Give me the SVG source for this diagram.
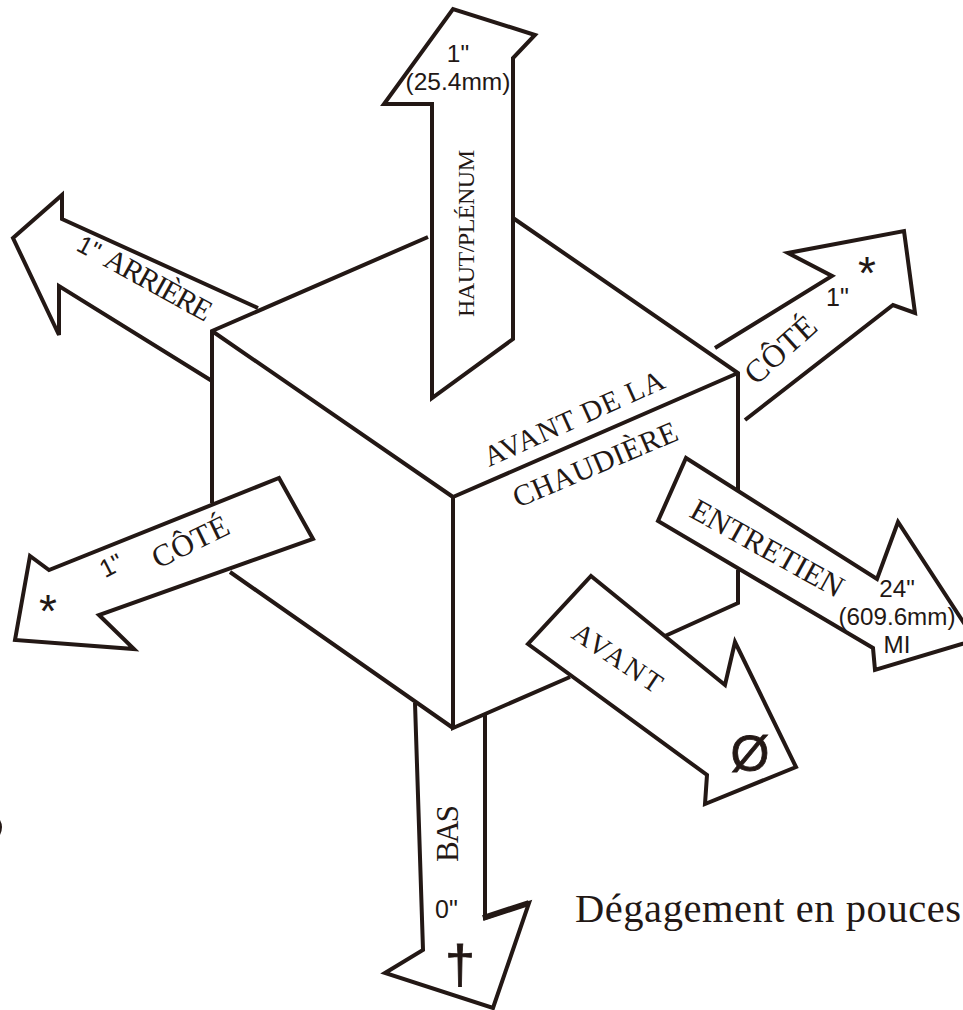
<svg xmlns="http://www.w3.org/2000/svg" width="963" height="1010" viewBox="0 0 963 1010">
<style>
.l{fill:none;stroke:#231815;stroke-width:4;stroke-linejoin:miter;stroke-linecap:butt}
.a{fill:#fff;stroke:#231815;stroke-width:4;stroke-linejoin:miter}
.s{font-family:"Liberation Serif",serif;fill:#231815}
.n{font-family:"Liberation Sans",Arial,sans-serif;fill:#231815}
.m{text-anchor:middle}
.b{stroke:#231815;stroke-width:.8}
</style>
<rect width="963" height="1010" fill="#fff"/>
<g id="connectors">
<path class="l" d="M212 503V331L428 237M513 218L738 373V490M738 570V603L665 636M570 677L453 728V497M453 497L738 373M212 331L453 497M230 572L453 728"/>
</g>
<g id="arrow-top">
<path class="a" d="M432 398V104H384L453 9L535 35L513 58V339Z"/>
<text class="n m" x="458" y="62" font-size="24.5">1"</text>
<text class="n m" x="458" y="90" font-size="24.5">(25.4mm)</text>
<text class="s" transform="translate(474,317) rotate(-90)" font-size="24" textLength="167">HAUT/PLÉNUM</text>
</g>
<g id="arrow-back">
<path class="l" d="M258 308L62 219V195L13 238L59 335V286L212 381"/>
<text class="n m" transform="translate(85,255) rotate(28)" font-size="25">1"</text>
<text class="s" transform="translate(102,265) rotate(29)" font-size="30" textLength="118">ARRIÈRE</text>
</g>
<g id="arrow-right">
<path class="l" d="M715 348L832 276L788 253L904 231L915 313L893 305L745 420"/>
<text class="n" x="826" y="306" font-size="25">1"</text>
<text class="n m" x="867" y="288.6" font-size="46">*</text>
<text class="s" transform="translate(756,386) rotate(-42)" font-size="32" textLength="85">CÔTÉ</text>
</g>
<g id="arrow-left">
<path class="a" d="M279 478L313 539L99 615L134 649L15 640L30 556L49 570Z"/>
<text class="n m" transform="translate(111,565) rotate(-27) translate(0,9)" font-size="25">1"</text>
<text class="n m" x="48" y="627" font-size="46">*</text>
<text class="s" transform="translate(158,569) rotate(-26)" font-size="31" textLength="82">CÔTÉ</text>
</g>
<g id="arrow-service">
<path class="a" d="M686 458L877 579L898 522L975 640L875 670L873 648L658 521Z"/>
<text class="s" transform="translate(688,516) rotate(29)" font-size="31" textLength="170">ENTRETIEN</text>
<text class="n m" x="897" y="597" font-size="24.2">24"</text>
<text class="n m" x="897" y="625" font-size="24.2">(609.6mm)</text>
<text class="n m" x="897" y="653" font-size="24.2">MI</text>
</g>
<g id="arrow-front">
<path class="a" d="M591 576L725 685L735 642L796 767L705 804L707 775L528 644Z"/>
<text class="s" transform="translate(570,637) rotate(34)" font-size="28" textLength="102">AVANT</text>
<text class="n m b" x="750" y="771" font-size="50">Ø</text>
</g>
<g id="arrow-bottom">
<path class="l" d="M485 713V918L529 903L493 1008L385 973L423 950L415 703"/>
<path class="l" style="stroke-width:6" d="M483 918L529 903"/>
<text class="s" transform="translate(458,862) rotate(-90)" font-size="31" textLength="57">BAS</text>
<text class="n" x="435" y="918" font-size="25">0"</text>
<text class="n m b" x="460" y="982.5" font-size="54">†</text>
</g>
<g id="labels">
<text class="s" transform="translate(489,467) rotate(-24.2)" font-size="29" textLength="195">AVANT DE LA</text>
<text class="s" transform="translate(518,508) rotate(-23)" font-size="30" textLength="176">CHAUDIÈRE</text>
<text class="s" x="575" y="922" font-size="40.5" textLength="386">Dégagement en pouces</text>
<path d="M0 820Q4 827 0 835Z" fill="#231815"/>
</g>
</svg>
